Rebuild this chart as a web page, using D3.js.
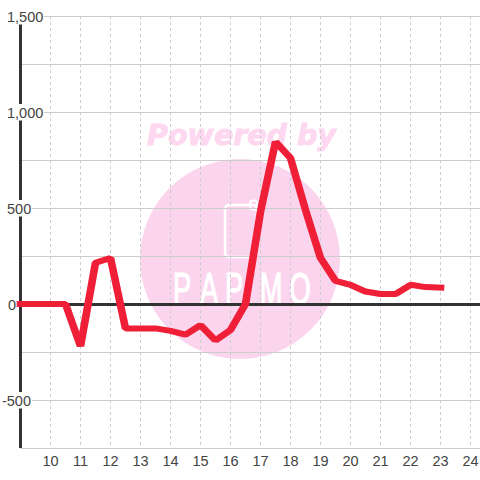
<!DOCTYPE html>
<html><head><meta charset="utf-8">
<script src="https://cdn.jsdelivr.net/npm/d3@7"></script>
<style>html,body{margin:0;padding:0;background:#fff}svg{display:block}</style></head>
<body><svg id="c" width="480" height="480"></svg>
<script>
const hours = [9,9.5,10,10.5,11,11.5,12,12.5,13,13.5,14,14.5,15,15.5,16,16.5,17,17.5,18,18.5,19,19.5,20,20.5,21,21.5,22,22.5,23];
const values = [0,0,0,0,-220,215,240,-127,-127,-127,-140,-160,-110,-190,-135,0,480,845,760,490,240,120,100,65,52,52,100,88,85];
const xTicks = [10,11,12,13,14,15,16,17,18,19,20,21,22,23,24];
const yMajor = [1500,1250,1000,750,500,250,0,-250,-500,-750];
const yLabels = [1500,1000,500,0,-500];
const logoLetters = ["P","A","P","M","O"];
const logoCenters = [182,209,234,271,300];

const svg = d3.select("#c");
const x = d3.scaleLinear().domain([9,25]).range([20.5,500.5]);
const y = d3.scaleLinear().domain([-750,1500]).range([448,16]);
const fmt = d => d3.format(",")(d).replace("\u2212","-");

// watermark
const wm = svg.append("g");
wm.append("circle").attr("cx",240).attr("cy",259).attr("r",100).attr("fill","#fbd5ee");
wm.append("text").attr("x",241.5).attr("y",145).attr("text-anchor","middle")
  .attr("font-family","DejaVu Sans").attr("font-weight","bold").attr("font-style","italic")
  .attr("font-size",28.5).attr("fill","#fdd8f0").attr("stroke","#fdd8f0").attr("stroke-width",.9).text("Powered by");
wm.append("rect").attr("x",225).attr("y",205).attr("width",32).attr("height",52).attr("rx",4)
  .attr("fill","none").attr("stroke","#fff").attr("stroke-width",2.5);
wm.append("rect").attr("x",250).attr("y",200.5).attr("width",7).attr("height",9).attr("rx",3)
  .attr("fill","none").attr("stroke","#fff").attr("stroke-width",2);
const sx = 0.62;
wm.append("g").attr("transform",`scale(${sx},1)`).selectAll("text").data(logoLetters).join("text")
  .attr("x",(d,i)=>logoCenters[i]/sx).attr("y",304).attr("text-anchor","middle")
  .attr("font-family","Liberation Sans").attr("font-size",44)
  .attr("fill","#fff").attr("stroke","#fff").attr("stroke-width",1.2).text(d=>d);

// grid
const grid = svg.append("g");
grid.selectAll(".h").data(yMajor).join("line").attr("class","h")
  .attr("x1",x(9)).attr("x2",480).attr("y1",d=>y(d)+.5).attr("y2",d=>y(d)+.5)
  .attr("stroke","#ccc").attr("stroke-width",1);
grid.selectAll(".v").data(xTicks).join("line").attr("class","v")
  .attr("x1",d=>x(d)).attr("x2",d=>x(d)).attr("y1",y(1500)).attr("y2",y(-750))
  .attr("stroke","#ccc").attr("stroke-width",1).attr("stroke-dasharray","3,3");

// axes
svg.append("line").attr("x1",x(9)).attr("x2",x(9)).attr("y1",y(1500)).attr("y2",y(-750))
  .attr("stroke","#333").attr("stroke-width",3);
svg.append("line").attr("x1",x(9)).attr("x2",480).attr("y1",y(0)+.5).attr("y2",y(0)+.5)
  .attr("stroke","#333").attr("stroke-width",3);

// labels
const yl = svg.append("g");
yLabels.forEach(d=>{
  const t = yl.append("text").attr("x",d<0?31:(d===0?16:7)).attr("y",y(d)+5.5)
    .attr("text-anchor",d<=0?"end":"start")
    .attr("font-family","Liberation Sans").attr("font-size",14.5).attr("fill","#444").text(fmt(d));
  const b = t.node().getBBox();
  yl.insert("rect","text").attr("x",b.x-1).attr("y",y(d)-8).attr("width",b.width+2).attr("height",16.5).attr("fill","#fff");
});
yl.selectAll("text").raise();
svg.append("g").selectAll("text").data(xTicks).join("text")
  .attr("x",d=>x(d)).attr("y",466).attr("text-anchor","middle")
  .attr("font-family","Liberation Sans").attr("font-size",14.5).attr("fill","#444").text(d=>d);

// series: the stroke is wider horizontally than vertically, as in the reference
const stretch = 1.27;
const line = d3.line().x((d,i)=>x(hours[i])/stretch).y(d=>y(d));
svg.append("g").attr("transform",`scale(${stretch},1)`).append("path").datum(values).attr("d",line).attr("fill","none")
  .attr("stroke","#f01f38").attr("stroke-width",6).attr("stroke-linecap","square").attr("stroke-linejoin","bevel");
</script></body></html>
